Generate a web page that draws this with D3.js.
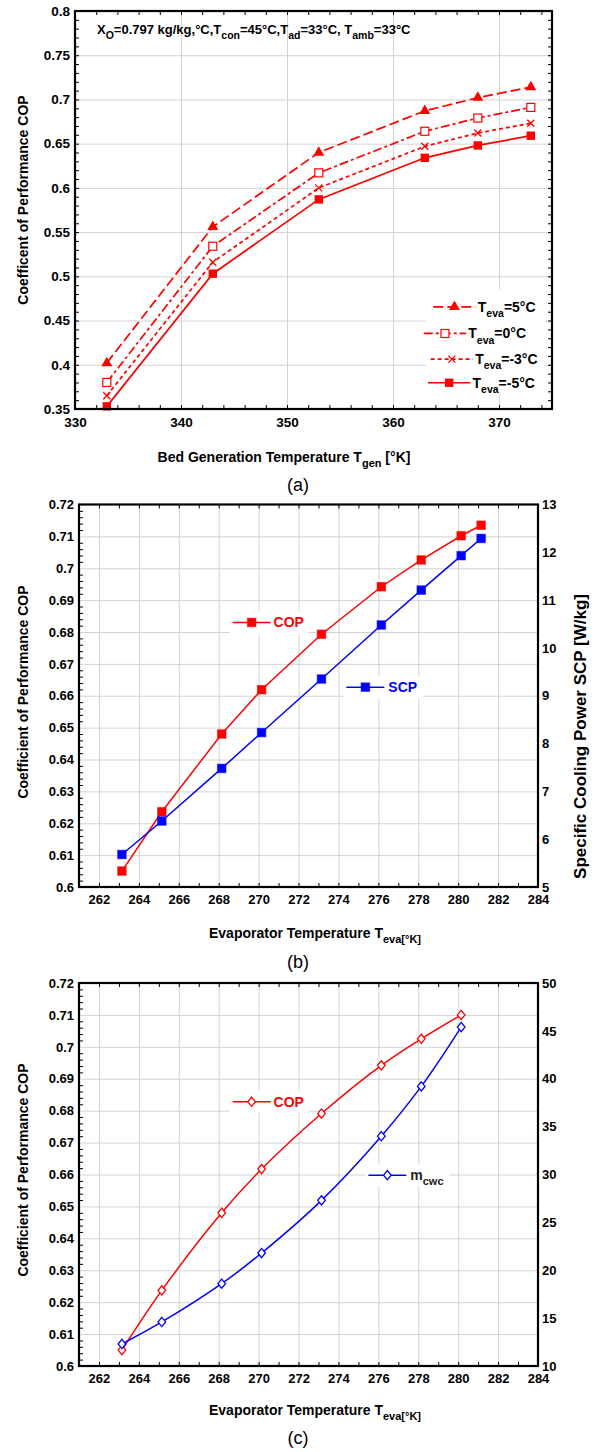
<!DOCTYPE html>
<html><head><meta charset="utf-8">
<script src="https://cdn.jsdelivr.net/npm/d3@7"></script>
<style>
body{margin:0;background:#fff}
svg{display:block}
text{font-family:"Liberation Sans",Arial,sans-serif}
</style>
</head><body>
<svg id="chart" width="597" height="1452"></svg>
<script>
// ---------- Panel (a) data ----------
const genTemps = [333, 343, 353, 363, 368, 373];
const copEva5  = [0.402, 0.556, 0.640, 0.687, 0.702, 0.714];
const copEva0  = [0.380, 0.534, 0.617, 0.664, 0.679, 0.691];
const copEvaM3 = [0.365, 0.516, 0.600, 0.647, 0.662, 0.673];
const copEvaM5 = [0.353, 0.503, 0.587, 0.634, 0.648, 0.659];
const aLegendLabels = ["=5°C", "=0°C", "=-3°C", "=-5°C"];
const aYTicks = [0.35, 0.4, 0.45, 0.5, 0.55, 0.6, 0.65, 0.7, 0.75, 0.8];
const aXTicks = [330, 340, 350, 360, 370];

// ---------- Panel (b) data ----------
const evaTempsB = [263.15, 265.15, 268.15, 270.15, 273.15, 276.15, 278.15, 280.15, 281.15];
const copB = [0.6050, 0.6236, 0.6480, 0.6619, 0.6793, 0.6942, 0.7026, 0.7102, 0.7135];
const scpB = [5.68, 6.38, 7.48, 8.23, 9.35, 10.48, 11.21, 11.93, 12.29];

// ---------- Panel (c) data ----------
const evaTempsC = [263.15, 265.15, 268.15, 270.15, 273.15, 276.15, 278.15, 280.15];
const copC  = [0.6050, 0.6237, 0.6480, 0.6617, 0.6791, 0.6942, 0.7025, 0.7100];
const mcwcC = [12.3, 14.6, 18.6, 21.8, 27.3, 34.0, 39.2, 45.4];

const evaYTicks = [0.6, 0.61, 0.62, 0.63, 0.64, 0.65, 0.66, 0.67, 0.68, 0.69, 0.7, 0.71, 0.72];
const evaXTicks = [262, 264, 266, 268, 270, 272, 274, 276, 278, 280, 282, 284];
const scpTicks  = [5, 6, 7, 8, 9, 10, 11, 12, 13];
const mcwcTicks = [10, 15, 20, 25, 30, 35, 40, 45, 50];

const RED = "#ff0000", BLUE = "#0000ff", GRID = "#d3d3d3";
const svg = d3.select("#chart");
const fmt = d => String(+d.toFixed(2));

function rich(g, x, y, parts, o) {
  const t = g.append("text").attr("x", x).attr("y", y)
    .attr("font-size", o.size).attr("font-weight", o.weight || "bold")
    .attr("fill", o.fill || "#000").attr("text-anchor", o.anchor || "start");
  if (o.transform) t.attr("transform", o.transform);
  let down = 0;
  parts.forEach(p => {
    const sub = Array.isArray(p);
    const s = sub ? p[0] : p;
    const shift = sub ? o.size * 0.36 : 0;
    t.append("tspan").attr("dy", shift - down)
      .attr("font-size", sub ? (o.subSize || o.size * 0.75) : o.size).text(s);
    down = shift;
  });
  return t;
}

function panel(c) {
  const g = svg.append("g");
  const x = d3.scaleLinear().domain(c.xDomain).range([c.left, c.right]);
  const y = d3.scaleLinear().domain(c.yDomain).range([c.bottom, c.top]);
  const h = c.bottom - c.top, w = c.right - c.left;
  // grid
  g.append("g").attr("transform", `translate(0,${c.bottom})`)
    .call(d3.axisBottom(x).tickValues(c.xGrid).tickSize(-h).tickFormat(""))
    .call(s => { s.select(".domain").remove(); s.selectAll("line").attr("stroke", GRID).attr("stroke-width", 1); });
  g.append("g").attr("transform", `translate(${c.left},0)`)
    .call(d3.axisLeft(y).tickValues(c.yGrid).tickSize(-w).tickFormat(""))
    .call(s => { s.select(".domain").remove(); s.selectAll("line").attr("stroke", GRID).attr("stroke-width", 1); });
  // minor ticks (inside)
  const minor = (axis, tr, vals, len) => g.append("g").attr("transform", tr)
    .call(axis.tickValues(vals).tickSize(len).tickFormat(""))
    .call(s => { s.select(".domain").remove(); s.selectAll("line").attr("stroke", "#000").attr("stroke-width", 1); });
  minor(d3.axisLeft(y), `translate(${c.left},0)`, c.yMinor, -4);
  minor(d3.axisRight(y), `translate(${c.right},0)`, c.yMinorRight || c.yMinor, -4);
  minor(d3.axisBottom(x), `translate(0,${c.bottom})`, c.xMinor, -4);
  minor(d3.axisTop(x), `translate(0,${c.top})`, c.xMinor, -4);
  // tick labels
  g.append("g").attr("transform", `translate(${c.left},0)`)
    .call(d3.axisLeft(y).tickValues(c.yTicks).tickSize(0).tickPadding(5).tickFormat(fmt))
    .call(s => { s.select(".domain").remove();
      s.selectAll("text").attr("font-size", c.tickSize).attr("font-weight", "bold")
        .attr("font-family", "Liberation Sans, Arial, sans-serif").attr("fill", "#000"); });
  g.append("g").attr("transform", `translate(0,${c.bottom})`)
    .call(d3.axisBottom(x).tickValues(c.xTicks).tickSize(0).tickPadding(8).tickFormat(d => d))
    .call(s => { s.select(".domain").remove();
      s.selectAll("text").attr("font-size", c.tickSize).attr("font-weight", "bold")
        .attr("font-family", "Liberation Sans, Arial, sans-serif").attr("fill", "#000"); });
  return { g, x, y, c };
}

function frame(p) {
  const c = p.c;
  p.g.append("rect").attr("x", c.left).attr("y", c.top)
    .attr("width", c.right - c.left).attr("height", c.bottom - c.top)
    .attr("fill", "none").attr("stroke", "#000").attr("stroke-width", 2.2);
}

function rng(a, b, s) { const r = []; for (let v = a; v <= b + 1e-9; v += s) r.push(+v.toFixed(4)); return r; }

// ================= Panel (a) =================
const pa = panel({
  xDomain: [330, 375], yDomain: [0.35, 0.8],
  left: 75, right: 552, top: 11, bottom: 409,
  xGrid: [340, 350, 360, 370], yGrid: aYTicks.slice(1, -1),
  yMinor: rng(0.36, 0.79, 0.01), xMinor: rng(332, 374, 2),
  yTicks: aYTicks, xTicks: aXTicks, tickSize: 13.5
});
{
  const { g, x, y } = pa;
  const series = [
    { v: copEva5,  dash: "10,4",     mk: "tri" },
    { v: copEva0,  dash: "9,3,3,3",  mk: "osq" },
    { v: copEvaM3, dash: "4,3",      mk: "x" },
    { v: copEvaM5, dash: null,       mk: "fsq" }
  ];
  const line = d3.line().x(d => x(d[0])).y(d => y(d[1]));
  function marker(sel, type, px, py) {
    if (type === "tri") sel.append("path").attr("d", d3.symbol(d3.symbolTriangle, 52)())
      .attr("transform", `translate(${px},${py})`).attr("fill", RED);
    else if (type === "osq") sel.append("rect").attr("x", px - 4).attr("y", py - 4).attr("width", 8).attr("height", 8)
      .attr("fill", "#fff").attr("stroke", RED).attr("stroke-width", 1.2);
    else if (type === "x") sel.append("path").attr("d", `M${px-3.5},${py-3.5}L${px+3.5},${py+3.5}M${px-3.5},${py+3.5}L${px+3.5},${py-3.5}`)
      .attr("stroke", RED).attr("stroke-width", 1.3);
    else sel.append("rect").attr("x", px - 4.2).attr("y", py - 4.2).attr("width", 8.4).attr("height", 8.4).attr("fill", RED);
  }
  series.forEach(s => {
    const pts = genTemps.map((t, i) => [t, s.v[i]]);
    g.append("path").attr("d", line(pts)).attr("fill", "none").attr("stroke", RED)
      .attr("stroke-width", 1.7).attr("stroke-dasharray", s.dash);
    pts.forEach(p => marker(g, s.mk, x(p[0]), y(p[1])));
  });
  // subtitle
  rich(g, 97, 34, ["X", ["O"], "=0.797 kg/kg,°C,T", ["con"], "=45°C,T", ["ad"], "=33°C, T", ["amb"], "=33°C"],
    { size: 13, subSize: 10.5 });
  // legend
  const legY = [0.4655, 0.4354, 0.4064, 0.3797];
  const legTextX = [368.0, 367.1, 367.75, 367.5];
  g.append("rect").attr("x", x(363.1)).attr("y", y(0.4855)).attr("width", x(374.3) - x(363.1))
    .attr("height", y(0.3655) - y(0.4855)).attr("fill", "#fff");
  series.forEach((s, i) => {
    const yy = y(legY[i]);
    const x1 = x(legTextX[i] - 4.2), x2 = x(legTextX[i] - 0.2);
    g.append("line").attr("x1", x1).attr("x2", x2).attr("y1", yy).attr("y2", yy)
      .attr("stroke", RED).attr("stroke-width", 1.7).attr("stroke-dasharray", s.dash);
    marker(g, s.mk, (x1 + x2) / 2, yy);
    rich(g, x(legTextX[i]), yy + 5, ["T", ["eva"], aLegendLabels[i]], { size: 14, subSize: 10.5 });
  });
  frame(pa);
  rich(svg, 284, 461.5, ["Bed Generation Temperature T", ["gen"], " [°K]"], { size: 14, subSize: 11, anchor: "middle" });
  svg.append("text").attr("transform", "translate(28,200) rotate(-90)").attr("text-anchor", "middle")
    .attr("font-size", 14).attr("font-weight", "bold").text("Coefficent of Performance COP");
  svg.append("text").attr("x", 298).attr("y", 491).attr("text-anchor", "middle")
    .attr("font-size", 18).text("(a)");
}

// ================= Panel (b) / (c) common =================
function evaPanel(top, bottom, y2Domain, y2Ticks) {
  const p = panel({
    xDomain: [261, 284], yDomain: [0.6, 0.72],
    left: 79, right: 538, top, bottom,
    xGrid: evaXTicks.slice(0, -1), yGrid: evaYTicks.slice(1, -1),
    yMinor: rng(0.602, 0.718, 0.002).filter(v => Math.abs(v * 100 - Math.round(v * 100)) > 1e-6),
    yMinorRight: [], xMinor: rng(262, 283, 1),
    yTicks: evaYTicks, xTicks: evaXTicks, tickSize: 13
  });
  p.y2 = d3.scaleLinear().domain(y2Domain).range([bottom, top]);
  p.g.append("g").attr("transform", `translate(${p.c.right},0)`)
    .call(d3.axisRight(p.y2).tickValues(y2Ticks).tickSize(0).tickPadding(4))
    .call(s => { s.select(".domain").remove();
      s.selectAll("text").attr("font-size", 13).attr("font-weight", "bold")
        .attr("font-family", "Liberation Sans, Arial, sans-serif").attr("fill", "#000"); });
  return p;
}

function legendItem(p, xa, xb, xm, xt, yv, color, mk, label, labelColor) {
  const { g, x, y } = p;
  const yy = y(yv);
  g.append("rect").attr("x", x(xa) - 3).attr("y", yy - 11).attr("width", x(xt) - x(xa) + label.w + 6)
    .attr("height", 22).attr("fill", "#fff");
  g.append("line").attr("x1", x(xa)).attr("x2", x(xb)).attr("y1", yy).attr("y2", yy)
    .attr("stroke", color).attr("stroke-width", 1.5);
  mk(g, x(xm), yy, color);
  rich(g, x(xt), yy + 5, label.parts, { size: 14, subSize: 11, fill: labelColor });
}

const sqMk = (g, px, py, col) => g.append("rect").attr("x", px - 4.3).attr("y", py - 4.3)
  .attr("width", 8.6).attr("height", 8.6).attr("fill", col).attr("stroke", col).attr("stroke-opacity", 0.5);
const dmMk = (g, px, py, col) => g.append("path").attr("d", `M${px},${py-4.6}L${px+3.8},${py}L${px},${py+4.6}L${px-3.8},${py}Z`)
  .attr("fill", "#fff").attr("stroke", col).attr("stroke-width", 1.3);

// ================= Panel (b) =================
const pb = evaPanel(504.5, 887, [5, 13], scpTicks);
{
  const { g, x, y, y2 } = pb;
  const lineL = d3.line().x(d => x(d[0])).y(d => y(d[1]));
  const lineR = d3.line().x(d => x(d[0])).y(d => y2(d[1]));
  const cop = evaTempsB.map((t, i) => [t, copB[i]]);
  const scp = evaTempsB.map((t, i) => [t, scpB[i]]);
  g.append("path").attr("d", lineL(cop)).attr("fill", "none").attr("stroke", RED).attr("stroke-width", 1.5);
  g.append("path").attr("d", lineR(scp)).attr("fill", "none").attr("stroke", BLUE).attr("stroke-width", 1.5);
  cop.forEach(d => sqMk(g, x(d[0]), y(d[1]), RED));
  scp.forEach(d => sqMk(g, x(d[0]), y2(d[1]), BLUE));
  legendItem(pb, 268.7, 270.6, 269.65, 270.75, 0.683, RED, sqMk, { parts: ["COP"], w: 32 }, RED);
  legendItem(pb, 274.4, 276.3, 275.35, 276.5, 0.6627, BLUE, sqMk, { parts: ["SCP"], w: 32 }, BLUE);
  frame(pb);
  rich(svg, 315, 938, ["Evaporator Temperature T", ["eva[°K]"]], { size: 14, subSize: 11, anchor: "middle" });
  svg.append("text").attr("transform", "translate(28,692) rotate(-90)").attr("text-anchor", "middle")
    .attr("font-size", 14).attr("font-weight", "bold").text("Coefficient of Performance COP");
  svg.append("text").attr("transform", "translate(586,594) rotate(-90)").attr("text-anchor", "end")
    .attr("font-size", 17).attr("font-weight", "bold").text("Specific Cooling Power SCP [W/kg]");
  svg.append("text").attr("x", 298).attr("y", 968).attr("text-anchor", "middle")
    .attr("font-size", 18).text("(b)");
}

// ================= Panel (c) =================
const pc = evaPanel(983, 1366, [10, 50], mcwcTicks);
{
  const { g, x, y, y2 } = pc;
  const curve = d3.curveCatmullRom.alpha(0.5);
  const lineL = d3.line().curve(curve).x(d => x(d[0])).y(d => y(d[1]));
  const lineR = d3.line().curve(curve).x(d => x(d[0])).y(d => y2(d[1]));
  const cop = evaTempsC.map((t, i) => [t, copC[i]]);
  const mc = evaTempsC.map((t, i) => [t, mcwcC[i]]);
  g.append("path").attr("d", lineL(cop)).attr("fill", "none").attr("stroke", RED).attr("stroke-width", 1.5);
  g.append("path").attr("d", lineR(mc)).attr("fill", "none").attr("stroke", BLUE).attr("stroke-width", 1.5);
  cop.forEach(d => dmMk(g, x(d[0]), y(d[1]), RED));
  mc.forEach(d => dmMk(g, x(d[0]), y2(d[1]), BLUE));
  legendItem(pc, 268.7, 270.6, 269.65, 270.75, 0.6828, RED, dmMk, { parts: ["COP"], w: 32 }, RED);
  legendItem(pc, 275.5, 277.4, 276.45, 277.6, 0.6598, BLUE, dmMk, { parts: ["m", ["cwc"]], w: 36 }, "#222");
  frame(pc);
  rich(svg, 315, 1415, ["Evaporator Temperature T", ["eva[°K]"]], { size: 14, subSize: 11, anchor: "middle" });
  svg.append("text").attr("transform", "translate(28,1170) rotate(-90)").attr("text-anchor", "middle")
    .attr("font-size", 14).attr("font-weight", "bold").text("Coefficient of Performance COP");
  svg.append("text").attr("x", 298).attr("y", 1444).attr("text-anchor", "middle")
    .attr("font-size", 18).text("(c)");
}
</script>
</body></html>
